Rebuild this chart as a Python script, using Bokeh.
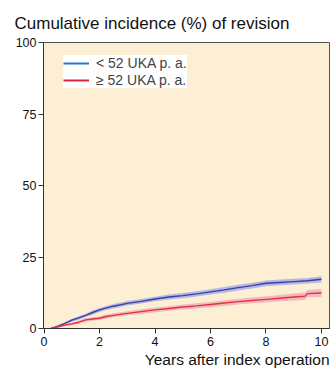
from bokeh.plotting import figure
from bokeh.models import Range1d, Legend, LegendItem, FixedTicker, Title
from bokeh.embed import file_html
from bokeh.resources import INLINE

title_text = "Cumulative incidence (%) of revision"
xlabel_text = "Years after index operation"
legend_labels = ["< 52 UKA p. a.", "≥ 52 UKA p. a."]
x_ticks = [0, 2, 4, 6, 8, 10]
y_ticks = [0, 25, 50, 75, 100]

t_low = [0.25, 0.5, 0.75, 1, 1.25, 1.5, 1.75, 2, 2.25, 2.5, 3, 3.5, 4, 4.5, 5, 5.5, 6, 6.5, 7, 7.5, 8, 8.5, 9, 9.5, 10]
low = [0, 0.8, 1.8, 2.9, 3.7, 4.6, 5.6, 6.5, 7.2, 7.8, 8.8, 9.5, 10.3, 11.0, 11.5, 12.1, 12.8, 13.5, 14.3, 15.0, 15.8, 16.1, 16.4, 16.7, 17.2]
low_lo = [0, 0.5, 1.4, 2.4, 3.1, 4.0, 4.9, 5.8, 6.5, 7.0, 8.0, 8.7, 9.5, 10.1, 10.6, 11.2, 11.9, 12.5, 13.3, 14.0, 14.8, 15.1, 15.4, 15.7, 16.1]
low_hi = [0, 1.1, 2.2, 3.4, 4.3, 5.2, 6.3, 7.2, 7.9, 8.6, 9.6, 10.3, 11.1, 11.9, 12.4, 13.0, 13.7, 14.5, 15.3, 16.0, 16.8, 17.1, 17.4, 17.7, 18.3]

t_high = [0.25, 0.5, 0.75, 1, 1.25, 1.5, 1.75, 2, 2.25, 2.5, 3, 3.5, 4, 4.5, 5, 5.5, 6, 6.5, 7, 7.5, 8, 8.5, 9, 9.4, 9.5, 10]
high = [0, 0.6, 1.2, 1.6, 2.2, 3.0, 3.3, 3.6, 4.2, 4.6, 5.3, 5.9, 6.5, 7.0, 7.5, 7.9, 8.4, 8.9, 9.4, 9.8, 10.2, 10.6, 11.0, 11.3, 12.2, 12.4]
high_lo = [0, 0.3, 0.8, 1.1, 1.7, 2.4, 2.7, 3.0, 3.5, 3.9, 4.6, 5.1, 5.7, 6.2, 6.6, 7.0, 7.5, 7.9, 8.4, 8.8, 9.1, 9.5, 9.8, 10.0, 10.9, 11.0]
high_hi = [0, 0.9, 1.6, 2.1, 2.7, 3.6, 3.9, 4.2, 4.9, 5.3, 6.0, 6.7, 7.3, 7.8, 8.4, 8.8, 9.3, 9.9, 10.4, 10.8, 11.3, 11.7, 12.2, 12.6, 13.5, 13.8]

FONT = "Liberation Sans"

p = figure(width=332, height=369, output_backend="svg", toolbar_location=None,
           x_range=Range1d(-0.02, 10.29), y_range=Range1d(0, 100),
           min_border_left=43, min_border_right=3, min_border_top=42, min_border_bottom=41,
           title=None)
p.background_fill_color = "#fdefd3"
p.border_fill_color = "white"
p.outline_line_color = "#555555"
p.outline_line_width = 1
p.xgrid.visible = False
p.ygrid.visible = False

for ax, ticks in ((p.xaxis, x_ticks), (p.yaxis, y_ticks)):
    ax.ticker = FixedTicker(ticks=ticks)
    ax.major_tick_out = 5
    ax.major_tick_in = 0
    ax.minor_tick_line_color = None
    ax.axis_line_color = "#333333"
    ax.major_tick_line_color = "#333333"
    ax.major_label_text_font = FONT
    ax.major_label_text_font_size = "12.5px"
    ax.major_label_text_color = "#111111"
p.xaxis.major_label_standoff = 3
p.yaxis.major_label_standoff = 2

p.varea(x=t_low, y1=low_lo, y2=low_hi, fill_color="#aeb1e6", fill_alpha=0.9)
p.varea(x=t_high, y1=high_lo, y2=high_hi, fill_color="#f3b3bd", fill_alpha=0.9)
p.line(t_low, low, line_color="#3b3f9f", line_width=1.4)
p.line(t_high, high, line_color="#e2323f", line_width=1.4)

r1 = p.line([0, 0], [0, 0], line_color="#1f78c8", line_width=2)
r2 = p.line([0, 0], [0, 0], line_color="#d9263f", line_width=2)
leg = Legend(items=[LegendItem(label=legend_labels[0], renderers=[r1]),
                    LegendItem(label=legend_labels[1], renderers=[r2])],
             location=(20, 240), margin=0, padding=9, spacing=1,
             glyph_width=26, glyph_height=16, label_standoff=7,
             label_text_font=FONT, label_text_font_size="14px",
             label_height=16,
             background_fill_color="white", background_fill_alpha=1,
             border_line_color=None)
p.add_layout(leg)

p.add_layout(Title(text=title_text, align="left", offset=-29, standoff=19,
                   text_font=FONT, text_font_size="17px", text_font_style="normal",
                   text_color="#111111"), "above")
p.add_layout(Title(text=xlabel_text, align="right", offset=0, standoff=0,
                   text_font=FONT, text_font_size="15.5px", text_font_style="normal",
                   text_color="#111111"), "below")

open("out.html", "w").write(file_html(p, INLINE))
